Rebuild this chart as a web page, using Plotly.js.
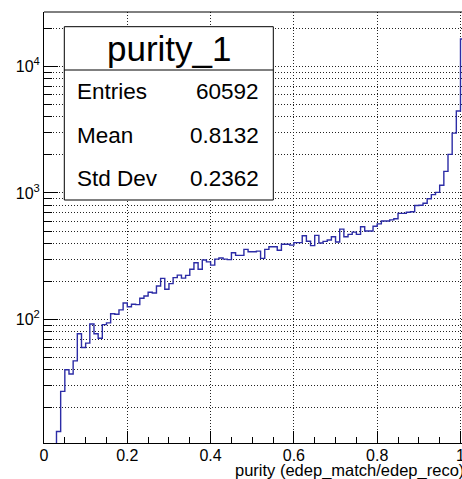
<!DOCTYPE html>
<html>
<head>
<meta charset="utf-8">
<script src="https://cdn.plot.ly/plotly-3.0.1.min.js"></script>
<style>html,body{margin:0;padding:0;background:#fff;}#chart{width:462px;height:479px;}</style>
</head>
<body>
<div id="chart"></div>
<script>
// Histogram purity_1 : 101 bins of width 0.01 starting at 0
const binLow = 0.0;
const binWidth = 0.01;
const counts = [
  0, 0, 0, 13, 27, 40, 37, 47, 77, 60,
  65, 92, 77, 71, 91, 94, 111, 110, 119, 135,
  126, 132, 131, 147, 153, 164, 162, 184, 211, 173,
  192, 214, 224, 212, 223, 249, 281, 249, 295, 285,
  269, 300, 306, 300, 297, 337, 321, 321, 358, 343,
  343, 347, 304, 358, 376, 376, 352, 393, 393, 387,
  405, 405, 459, 415, 383, 462, 402, 414, 425, 451,
  409, 518, 450, 470, 490, 470, 540, 500, 500, 545,
  570, 600, 600, 612, 625, 690, 690, 703, 710, 795,
  800, 830, 900, 970, 1010, 1150, 1480, 2020, 2970, 4450,
  16500
];
const histTitle = "purity_1";
const statLabels = ["Entries", "Mean", "Std Dev"];
const statValues = ["60592", "0.8132", "0.2362"];
const xTickVals = [0, 0.2, 0.4, 0.6, 0.8, 1];
const xTickText = ["0", "0.2", "0.4", "0.6", "0.8", "1"];
const yMajorVals = [100, 1000, 10000];
const yMajorText = ["10<sup>2</sup>", "10<sup>3</sup>", "10<sup>4</sup>"];
const xTitle = "purity (edep_match/edep_reco)";

// build step outline from bin edges
const xs = [], ys = [];
let started = false;
for (let k = 0; k < counts.length; k++) {
  const edge = binLow + k * binWidth;
  if (!started) {
    if (counts[k] <= 0) continue;
    started = true;
    xs.push(edge); ys.push(1); // from below the axis floor
  }
  xs.push(edge); ys.push(counts[k]);
}
xs.push(binLow + counts.length * binWidth); ys.push(counts[counts.length - 1]);

// minor log positions (2..9 x decade)
const yMinorVals = [];
for (const dec of [10, 100, 1000, 10000]) {
  for (let m = 2; m <= 9; m++) yMinorVals.push(m * dec);
}

const W = 462, H = 479;
const mL = 44, mR = 0, mT = 12, mB = 36;
const pw = W - mL - mR, ph = H - mT - mB;
const px = v => (v - mL) / pw;
const py = v => (H - mB - v) / ph;

const font = "Liberation Sans, Arial, Helvetica, sans-serif";
const gridDash = "1px,2px";

const trace = {
  type: "scatter", mode: "lines",
  x: xs, y: ys,
  line: {shape: "hv", color: "#2c2ca6", width: 1.4},
  hoverinfo: "skip"
};

const annotations = [];
annotations.push({xref: "paper", yref: "paper", x: px(169), y: py(48), text: histTitle,
  showarrow: false, xanchor: "center", yanchor: "middle", font: {family: font, size: 35, color: "#000"}});
const rowY = [91.7, 135, 178.3];
for (let i = 0; i < statLabels.length; i++) {
  annotations.push({xref: "paper", yref: "paper", x: px(75), y: py(rowY[i]), text: statLabels[i],
    showarrow: false, xanchor: "left", yanchor: "middle", font: {family: font, size: 22.5, color: "#000"}});
  annotations.push({xref: "paper", yref: "paper", x: px(261), y: py(rowY[i]), text: statValues[i],
    showarrow: false, xanchor: "right", yanchor: "middle", font: {family: font, size: 22.5, color: "#000"}});
}
annotations.push({xref: "paper", yref: "paper", x: px(466), y: py(470), text: xTitle,
  showarrow: false, xanchor: "right", yanchor: "middle", font: {family: font, size: 16.5, color: "#000"}});

const shapes = [
  // top frame line
  {type: "line", xref: "paper", yref: "paper", x0: 0, x1: 1, y0: 1, y1: 1, line: {color: "#000", width: 1}},
  // stats box
  {type: "rect", xref: "paper", yref: "paper", x0: px(64.3), x1: px(273.3), y0: py(200), y1: py(26.7),
    fillcolor: "#fff", line: {color: "#000", width: 1}, layer: "above"},
  {type: "line", xref: "paper", yref: "paper", x0: px(64.3), x1: px(273.3), y0: py(70), y1: py(70),
    line: {color: "#000", width: 1}, layer: "above"}
];

const layout = {
  width: W, height: H,
  margin: {l: mL, r: mR, t: mT, b: mB, pad: 0},
  paper_bgcolor: "#fff", plot_bgcolor: "#fff",
  showlegend: false,
  font: {family: font, size: 16, color: "#000"},
  xaxis: {
    range: [0, pw / 416.5], showline: true, linecolor: "#000", linewidth: 1,
    zeroline: false, ticks: "inside", ticklen: 12, tickcolor: "#000", tickwidth: 1,
    tickmode: "array", tickvals: xTickVals, ticktext: xTickText,
    ticklabeloverflow: "allow", ticklabelstandoff: -2,
    showgrid: true, gridcolor: "#222", griddash: gridDash, gridwidth: 1,
    minor: {dtick: 0.05, tick0: 0, ticks: "inside", ticklen: 6, tickcolor: "#000", showgrid: false},
    tickfont: {family: font, size: 16, color: "#000"}
  },
  yaxis: {
    type: "log", range: [1.023, 4.4307], showline: true, linecolor: "#000", linewidth: 1,
    zeroline: false, ticks: "inside", ticklen: 14, tickcolor: "#000", tickwidth: 1,
    tickmode: "array", tickvals: yMajorVals, ticktext: yMajorText,
    showgrid: true, gridcolor: "#222", griddash: gridDash, gridwidth: 1,
    minor: {tickmode: "array", tickvals: yMinorVals, ticks: "inside", ticklen: 8, tickcolor: "#000",
      showgrid: true, gridcolor: "#222", griddash: gridDash, gridwidth: 1},
    tickfont: {family: font, size: 16, color: "#000"}
  },
  shapes: shapes,
  annotations: annotations
};

Plotly.newPlot("chart", [trace], layout, {staticPlot: true, displayModeBar: false});
</script>
</body>
</html>
